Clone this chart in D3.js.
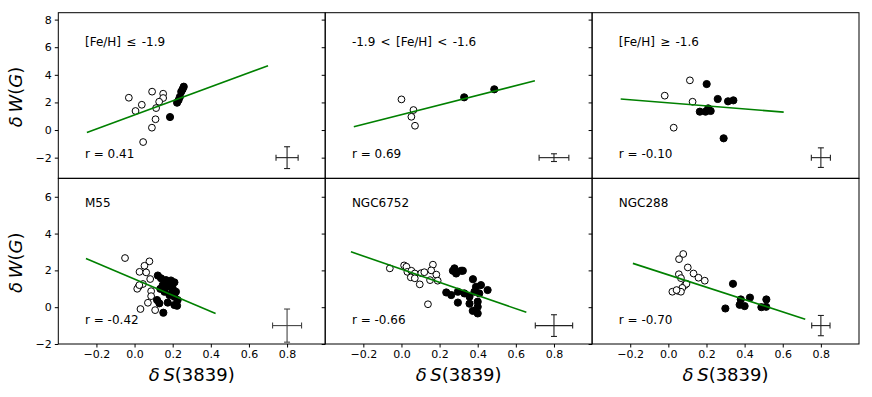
<!DOCTYPE html>
<html>
<head>
<meta charset="utf-8">
<script src="https://cdn.jsdelivr.net/npm/d3@7"></script>
<style>
body { margin: 0; background: #fff; }
text { font-family: "DejaVu Sans", sans-serif; }
</style>
</head>
<body>
<svg id="chart"></svg>
<script>
// tick values
var xTicks = [-0.2, 0.0, 0.2, 0.4, 0.6, 0.8];
var yTicksTop = [-2, 0, 2, 4, 6, 8];
var yTicksBottom = [-2, 0, 2, 4, 6];

// panel labels and correlation coefficients
var panelLabels = ["[Fe/H] \u2264 -1.9", "-1.9 < [Fe/H] < -1.6", "[Fe/H] \u2265 -1.6", "M55", "NGC6752", "NGC288"];
var rLabels = ["r = 0.41", "r = 0.69", "r = -0.10", "r = -0.42", "r = -0.66", "r = -0.70"];

// [dS, dW] points, open = one population, filled = the other
var openFeLow = [[-0.03, 2.34], [0.005, 1.38], [0.038, 1.83], [0.092, 2.78], [0.15, 2.63], [0.15, 2.32],
  [0.129, 2.05], [0.113, 1.59], [0.11, 0.78], [0.091, 0.17], [0.045, -0.87]];
var filledFeLow = [[0.186, 0.94], [0.223, 1.98], [0.231, 2.17], [0.238, 2.41], [0.245, 2.78], [0.252, 2.95], [0.258, 3.14]];

var openFeMid = [[0.0, 2.22], [0.063, 1.45], [0.052, 0.96], [0.071, 0.31]];
var filledFeMid = [[0.329, 2.37], [0.487, 2.95]];

var openFeHigh = [[-0.019, 2.49], [0.113, 3.6], [0.127, 2.05], [0.028, 0.17]];
var filledFeHigh = [[0.201, 3.33], [0.259, 2.25], [0.313, 2.08], [0.341, 2.15], [0.165, 1.33], [0.195, 1.33],
  [0.222, 1.38], [0.209, 1.57], [0.29, -0.6]];

var openM55 = [[-0.05, 2.67], [0.078, 2.49], [0.052, 2.25], [0.026, 1.92], [0.061, 1.89], [0.082, 1.53],
  [0.044, 1.26], [0.021, 1.11], [0.014, 1.0], [0.025, 1.2], [0.087, 0.87], [0.087, 0.6], [0.07, 0.24],
  [0.031, -0.1], [0.108, -0.16]];
var filledM55 = [[0.122, 1.72], [0.139, 1.57], [0.165, 1.47], [0.191, 1.45], [0.209, 1.35], [0.148, 1.2],
  [0.174, 1.11], [0.2, 1.02], [0.217, 0.84], [0.157, 0.84], [0.183, 0.66], [0.209, 0.57], [0.226, 0.39],
  [0.118, 0.39], [0.174, 0.25], [0.209, 0.12], [0.151, -0.3], [0.223, 0.08], [0.13, 0.21], [0.185, 1.3],
  [0.135, 1.0], [0.2, 0.8]];

var openNGC6752 = [[-0.061, 2.11], [0.014, 2.27], [0.026, 2.2], [0.031, 1.92], [0.052, 1.98], [0.07, 1.83],
  [0.049, 1.62], [0.07, 1.57], [0.096, 1.24], [0.104, 1.85], [0.12, 1.9], [0.165, 2.31], [0.156, 2.0],
  [0.183, 1.77], [0.19, 1.44], [0.15, 1.47], [0.139, 0.16]];
var filledNGC6752 = [[0.27, 1.98], [0.287, 1.83], [0.313, 1.98], [0.278, 2.11], [0.322, 1.98], [0.375, 1.52],
  [0.235, 0.8], [0.261, 0.66], [0.296, 0.84], [0.33, 0.75], [0.357, 0.57], [0.391, 1.11], [0.417, 1.2],
  [0.452, 0.93], [0.408, 0.75], [0.383, 0.84], [0.296, 0.25], [0.357, 0.19], [0.4, 0.3], [0.374, -0.2],
  [0.4, -0.34], [0.4, 0.02]];

var openNGC288 = [[0.078, 2.89], [0.056, 2.61], [0.102, 2.16], [0.132, 1.83], [0.158, 1.6], [0.191, 1.44],
  [0.055, 1.79], [0.066, 1.58], [0.087, 1.2], [0.095, 1.27], [0.073, 1.05], [0.049, 0.89], [0.021, 0.84],
  [0.066, 0.84], [0.043, 0.93]];
var filledNGC288 = [[0.339, 1.27], [0.38, 0.42], [0.428, 0.52], [0.374, 0.13], [0.4, 0.06], [0.299, -0.07],
  [0.514, 0.42], [0.488, 0.0], [0.513, 0.02]];

// fitted lines, [start, end]
var fitLines = [
  [[-0.25, -0.17], [0.70, 4.66]],
  [[-0.25, 0.24], [0.70, 3.57]],
  [[-0.25, 2.25], [0.605, 1.3]],
  [[-0.255, 2.65], [0.425, -0.34]],
  [[-0.265, 3.01], [0.655, -0.28]],
  [[-0.186, 2.38], [0.718, -0.65]]
];

// typical error bars: [x, y, xerr, yerr]
var errBars = [
  [0.8, -2, 0.058, 0.79],
  [0.8, -2, 0.078, 0.28],
  [0.8, -2, 0.05, 0.71],
  [0.8, -1, 0.076, 0.9],
  [0.8, -1, 0.098, 0.59],
  [0.8, -1, 0.048, 0.55]
];

var openSets = [openFeLow, openFeMid, openFeHigh, openM55, openNGC6752, openNGC288];
var filledSets = [filledFeLow, filledFeMid, filledFeHigh, filledM55, filledNGC6752, filledNGC288];

var W = 872, H = 397;
var left = 58.3, top0 = 12.7;
var pw = (859 - left) / 3, ph = (344 - top0) / 2;

var svg = d3.select("#chart").attr("width", W).attr("height", H);

var minusFmt = function(s) { return s.replace(/-/g, "\u2212"); };

for (var i = 0; i < 6; i++) {
    var col = i % 3, row = Math.floor(i / 3);
    var x = d3.scaleLinear().domain([-0.4, 1.0]).range([0, pw]);
    var y = d3.scaleLinear()
        .domain(row == 0 ? [-3.5, 8.5] : [-2, 7])
        .range([ph, 0]);

    var g = svg.append("g")
        .attr("transform", "translate(" + (left + col * pw) + "," + (top0 + row * ph) + ")");

    var yAxis = d3.axisLeft(y)
        .tickValues(row == 0 ? yTicksTop : yTicksBottom)
        .tickSize(3.5).tickPadding(3)
        .tickFormat(function(d) { return col == 0 ? minusFmt(d3.format("d")(d)) : ""; });
    var ya = g.append("g").call(yAxis);
    ya.select(".domain").remove();
    ya.selectAll("text").attr("font-size", 11).attr("fill", "#000")
        .style("font-family", "DejaVu Sans");
    ya.selectAll("line").attr("stroke", "#000");

    if (row == 1) {
        var xa = g.append("g")
            .attr("transform", "translate(0," + ph + ")")
            .call(d3.axisBottom(x).tickValues(xTicks).tickSize(3.5).tickPadding(3)
                .tickFormat(function(d) { return minusFmt(d3.format(".1f")(d)); }));
        xa.select(".domain").remove();
        xa.selectAll("text").attr("font-size", 11).attr("fill", "#000")
            .style("font-family", "DejaVu Sans");
        xa.selectAll("line").attr("stroke", "#000");
    }

    // points
    g.selectAll(".open").data(openSets[i]).enter().append("circle")
        .attr("cx", function(d) { return x(d[0]); })
        .attr("cy", function(d) { return y(d[1]); })
        .attr("r", 3.4)
        .attr("fill", "#fff").attr("stroke", "#000").attr("stroke-width", 1);

    g.selectAll(".filled").data(filledSets[i]).enter().append("circle")
        .attr("cx", function(d) { return x(d[0]); })
        .attr("cy", function(d) { return y(d[1]); })
        .attr("r", 3.6)
        .attr("fill", "#000").attr("stroke", "#000").attr("stroke-width", 1);

    // fit
    var line = d3.line()
        .x(function(d) { return x(d[0]); })
        .y(function(d) { return y(d[1]); });
    g.append("path")
        .datum(fitLines[i])
        .attr("fill", "none")
        .attr("stroke", "#008000")
        .attr("stroke-width", 1.6)
        .attr("d", line);

    // error bar
    var e = errBars[i];
    var eb = g.append("g").attr("stroke", i == 3 ? "#444" : "#222").attr("stroke-width", 1.1);
    var cap = 3;
    eb.append("line").attr("x1", x(e[0] - e[2])).attr("x2", x(e[0] + e[2]))
        .attr("y1", y(e[1])).attr("y2", y(e[1]));
    eb.append("line").attr("x1", x(e[0])).attr("x2", x(e[0]))
        .attr("y1", y(e[1] - e[3])).attr("y2", y(e[1] + e[3]));
    eb.append("line").attr("x1", x(e[0] - e[2])).attr("x2", x(e[0] - e[2]))
        .attr("y1", y(e[1]) - cap).attr("y2", y(e[1]) + cap);
    eb.append("line").attr("x1", x(e[0] + e[2])).attr("x2", x(e[0] + e[2]))
        .attr("y1", y(e[1]) - cap).attr("y2", y(e[1]) + cap);
    eb.append("line").attr("x1", x(e[0]) - cap).attr("x2", x(e[0]) + cap)
        .attr("y1", y(e[1] - e[3])).attr("y2", y(e[1] - e[3]));
    eb.append("line").attr("x1", x(e[0]) - cap).attr("x2", x(e[0]) + cap)
        .attr("y1", y(e[1] + e[3])).attr("y2", y(e[1] + e[3]));

    // labels
    g.append("text").attr("x", pw * 0.1).attr("y", row == 0 ? 33.5 : 28.3)
        .attr("font-size", 12).attr("word-spacing", 1.5).text(panelLabels[i]);
    g.append("text").attr("x", pw * 0.1).attr("y", row == 0 ? 145.5 : 145.7)
        .attr("font-size", 12).text(rLabels[i]);

    // frame
    g.append("rect").attr("width", pw).attr("height", ph)
        .attr("fill", "none").attr("stroke", "#000").attr("stroke-width", 1);

    if (col == 0) {
        var yl = svg.append("text")
            .attr("transform", "translate(22," + (top0 + row * ph + ph / 2 + 1.5) + ") rotate(-90)")
            .attr("text-anchor", "middle").attr("font-size", 18);
        yl.append("tspan").attr("font-style", "italic").text("\u03b4\u2009W");
        yl.append("tspan").text("(");
        yl.append("tspan").attr("font-style", "italic").text("G");
        yl.append("tspan").text(")");
    }
    if (row == 1) {
        var xl = svg.append("text")
            .attr("x", left + col * pw + pw / 2).attr("y", 381)
            .attr("text-anchor", "middle").attr("font-size", 18);
        xl.append("tspan").attr("font-style", "italic").text("\u03b4\u2009S");
        xl.append("tspan").text("(3839)");
    }
}
</script>
</body>
</html>
